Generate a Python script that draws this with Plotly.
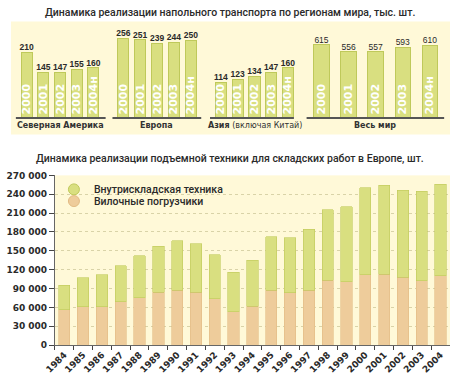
import plotly.graph_objects as go

# ---------------- data ----------------
years_top = ["2000", "2001", "2002", "2003", "2004н"]
na_vals = [210, 145, 147, 155, 160]
eu_vals = [256, 251, 239, 244, 250]
asia_vals = [114, 123, 134, 147, 160]
world_vals = [615, 556, 557, 593, 610]
region_labels = ["<b>Северная Америка</b>", "<b>Европа</b>", "<b>Азия</b> (включая Китай)", "<b>Весь мир</b>"]

years_bottom = ["1984", "1985", "1986", "1987", "1988", "1989", "1990", "1991", "1992", "1993",
                "1994", "1995", "1996", "1997", "1998", "1999", "2000", "2001", "2002", "2003", "2004"]
forklifts = [56000, 61000, 61000, 69000, 75000, 84000, 87000, 84000, 74000, 53000,
             62000, 87000, 83000, 87000, 103000, 101000, 112000, 113000, 108000, 102000, 110000]
warehouse = [39000, 46000, 51000, 57000, 67000, 73000, 79000, 77000, 70000, 63000,
             73000, 85000, 88000, 97000, 112000, 119000, 138000, 141000, 138000, 143000, 146000]
series_names = ["Внутрискладская техника", "Вилочные погрузчики"]

title_top = "Динамика реализации напольного транспорта по регионам мира, тыс. шт."
title_bottom = "Динамика реализации подъемной техники для складских работ в Европе, шт."

# ---------------- styles ----------------
W, H = 450, 378
def px(x):
    return x / W
def py(y):
    return 1 - y / H

GREEN = "#d9df80"
GREEN_LINE = "#bfc95a"
ORANGE = "#eecc9b"
ORANGE_LINE = "#e2bb84"
BG = "#fff9d8"
DARK = "#2a2a2a"

fig = go.Figure()

top_groups = [
    (na_vals, "x", "y", 0.67, "bold"),
    (eu_vals, "x2", "y2", 0.67, "bold"),
    (asia_vals, "x3", "y3", 0.67, "bold"),
    (world_vals, "x4", "y4", 0.57, "normal"),
]
for vals, xa, ya, w, vw in top_groups:
    fig.add_trace(go.Bar(
        x=years_top, y=vals, xaxis=xa, yaxis=ya, width=w,
        marker=dict(color=GREEN, line=dict(color=GREEN_LINE, width=1)),
        text=years_top, textposition="inside", insidetextanchor="start",
        textangle=-90, constraintext="none",
        textfont=dict(family="DejaVu Sans", size=11, color="white", weight="bold"),
        showlegend=False, hoverinfo="skip"))
    fig.add_trace(go.Scatter(
        x=years_top, y=vals, xaxis=xa, yaxis=ya, mode="text",
        text=[str(v) for v in vals], textposition="top center",
        textfont=dict(family="Liberation Sans", size=8.5, color=DARK, weight=vw),
        cliponaxis=False, showlegend=False, hoverinfo="skip"))

# bottom stacked chart
fig.add_trace(go.Bar(
    x=years_bottom, y=forklifts, xaxis="x5", yaxis="y5", width=0.6,
    marker=dict(color=ORANGE, line=dict(color=ORANGE_LINE, width=0.6)),
    showlegend=False, hoverinfo="skip"))
fig.add_trace(go.Bar(
    x=years_bottom, y=warehouse, xaxis="x5", yaxis="y5", width=0.6,
    marker=dict(color=GREEN, line=dict(color=GREEN_LINE, width=0.6)),
    showlegend=False, hoverinfo="skip"))
# legend entries (circles), one legend each so spacing can be set
for name, col, lc, lg in [(series_names[0], GREEN, GREEN_LINE, "legend"),
                          (series_names[1], ORANGE, ORANGE_LINE, "legend2")]:
    fig.add_trace(go.Scatter(
        x=[years_bottom[0]], y=[None], xaxis="x5", yaxis="y5", mode="markers", name=name,
        legend=lg,
        marker=dict(symbol="circle", size=11, color=col, line=dict(color=lc, width=1))))

hidden_y = dict(visible=False, fixedrange=True)
n_top = len(years_top)
def top_x(d0, d1, anchor):
    return dict(domain=[px(d0), px(d1)], anchor=anchor, visible=False, fixedrange=True,
                type="category", range=[-0.5, n_top - 0.5])

base_px = 115.5
top_px = 30
na_scale = 3.15
world_scale = 8.26
rng_reg = (base_px - top_px) * na_scale
rng_world = (base_px - top_px) * world_scale
ydom = [py(base_px), py(top_px)]

leg_font = dict(family="Roboto", size=10.5, color=DARK, weight=500)
fig.update_layout(
    width=W, height=H, autosize=False,
    margin=dict(l=0, r=0, t=0, b=0),
    paper_bgcolor="white", plot_bgcolor=BG,
    barmode="stack",
    separators=". ",
    xaxis=top_x(7.5, 93, "y"),
    xaxis2=top_x(106.5, 193, "y2"),
    xaxis3=top_x(206.5, 292.5, "y3"),
    xaxis4=top_x(304.4, 443.2, "y4"),
    yaxis=dict(domain=ydom, range=[0, rng_reg], anchor="x", **hidden_y),
    yaxis2=dict(domain=ydom, range=[0, rng_reg], anchor="x2", **hidden_y),
    yaxis3=dict(domain=ydom, range=[0, rng_reg], anchor="x3", **hidden_y),
    yaxis4=dict(domain=ydom, range=[0, rng_world], anchor="x4", **hidden_y),
    xaxis5=dict(domain=[px(45), 1], anchor="y5", type="category",
                range=[-0.5, len(years_bottom) - 0.5],
                tickson="boundaries", ticks="outside", ticklen=4, tickcolor="#444",
                showline=True, linecolor="#666", linewidth=1, showgrid=False,
                tickangle=-45,
                tickfont=dict(family="DejaVu Sans", size=9, color=DARK, weight="bold"),
                fixedrange=True),
    yaxis5=dict(domain=[py(349.3), py(175)], anchor="x5", range=[0, 270000],
                dtick=30000, tick0=0, tickformat=",d", ticks="outside", ticklen=5,
                tickcolor="#444", showline=True, linecolor="#666", linewidth=1,
                showgrid=True, gridcolor="#d9d3a8", griddash="dot", gridwidth=1,
                zeroline=False, layer="above traces",
                tickfont=dict(family="DejaVu Sans", size=9, color=DARK, weight="bold"),
                fixedrange=True),
    legend=dict(x=px(44), y=py(174.5), xanchor="left", yanchor="top",
                bgcolor="rgba(0,0,0,0)", font=leg_font, itemwidth=30),
    legend2=dict(x=px(44), y=py(186.5), xanchor="left", yanchor="top",
                 bgcolor="rgba(0,0,0,0)", font=leg_font, itemwidth=30),
    showlegend=True,
)

shapes = [dict(type="rect", xref="paper", yref="paper", x0=0, x1=1, y0=py(133), y1=py(17),
               fillcolor=BG, line=dict(width=0), layer="below")]
for x0, x1 in [(5, 97), (104, 195), (204, 290), (303, 444)]:
    shapes.append(dict(type="line", xref="paper", yref="paper", x0=px(x0), x1=px(x1),
                       y0=py(116), y1=py(116), line=dict(color="#555", width=2)))
fig.update_layout(shapes=shapes)

annotations = [
    dict(text=title_top, x=px(224), y=py(8), xref="paper", yref="paper",
         xanchor="center", yanchor="middle", showarrow=False,
         font=dict(family="Roboto", size=10.5, color=DARK, weight=500)),
    dict(text=title_bottom, x=px(224), y=py(158), xref="paper", yref="paper",
         xanchor="center", yanchor="middle", showarrow=False,
         font=dict(family="Roboto", size=10.5, color=DARK, weight=500)),
]
for lbl, cx in zip(region_labels, [51, 149.5, 250, 373.5]):
    annotations.append(dict(text=lbl, x=px(cx), y=py(123.5), xref="paper", yref="paper",
                            xanchor="center", yanchor="middle", showarrow=False,
                            font=dict(family="DejaVu Sans", size=8, color="#333")))
fig.update_layout(annotations=annotations)

fig.write_html("out.html", config={"displayModeBar": False},
               post_script="document.body.style.margin='0';document.body.style.overflow='hidden';")
